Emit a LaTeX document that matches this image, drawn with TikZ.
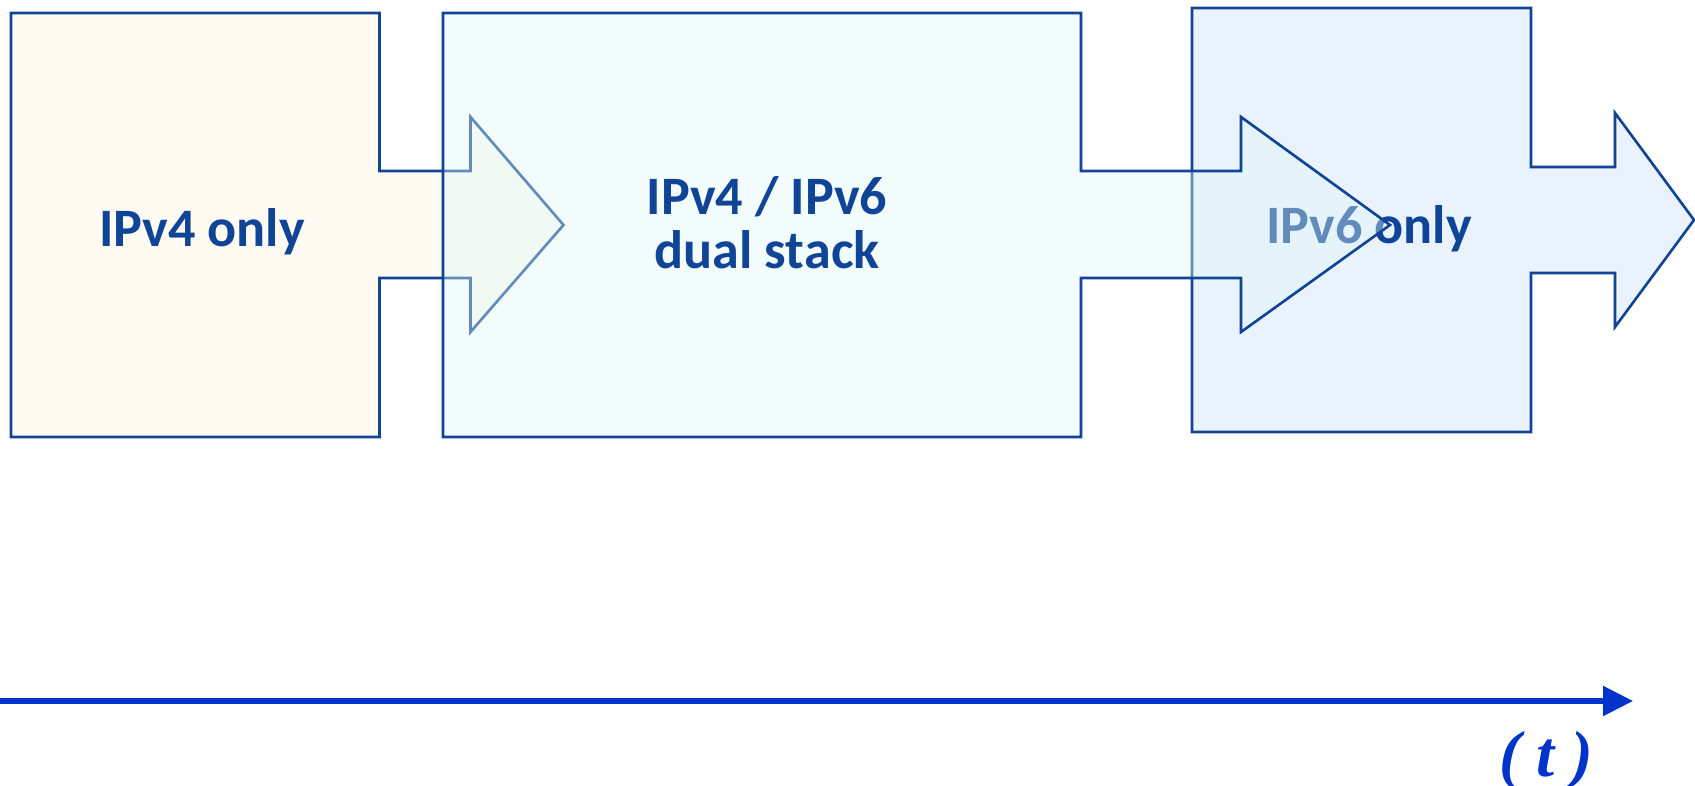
\documentclass[tikz,border=0pt]{standalone}
\usepackage{fontspec}
\setmainfont{Carlito}
\newfontfamily\serifbi{Liberation Serif}
\usetikzlibrary{arrows.meta}
\definecolor{edge}{RGB}{16,68,150}
\definecolor{cream}{RGB}{255,251,242}
\definecolor{aqua}{RGB}{222,247,247}
\definecolor{sky}{RGB}{233,242,253}
\definecolor{axisblue}{RGB}{0,51,204}
\begin{document}
\begin{tikzpicture}[x=0.01cm,y=-0.01cm,
  stage/.style={draw=edge,line width=0.75pt,line join=miter},
  stagelabel/.style={text=edge,font=\bfseries\fontsize{15.4}{15.4}\selectfont,
    align=center,inner sep=0pt,anchor=base}]
\useasboundingbox (0,0) rectangle (1695,786);

% stage 1: IPv4 only
\draw[stage,fill=cream]
  (11,13) -- (379.5,13) -- (379.5,171) -- (470.5,171) -- (470.5,117)
  -- (563.5,225) -- (470.5,332) -- (470.5,278) -- (379.5,278)
  -- (379.5,437) -- (11,437) -- cycle;
\node[stagelabel] (v4) at (202,246.5) {IPv4 only};

% stage 3: IPv6 only
\draw[stage,fill=sky]
  (1192,8) -- (1531,8) -- (1531,167) -- (1615,167) -- (1615,113)
  -- (1694,220) -- (1615,327) -- (1615,273) -- (1531,273)
  -- (1531,432) -- (1192,432) -- cycle;
\node[stagelabel] (v6) at (1369,244) {IPv6 only};

% stage 2: dual stack, laid over its neighbours
\draw[stage,fill=aqua,fill opacity=0.4]
  (443,13) -- (1081,13) -- (1081,171) -- (1241,171) -- (1241,117)
  -- (1390,225) -- (1241,332) -- (1241,278) -- (1081,278)
  -- (1081,437) -- (443,437) -- cycle;
\node[stagelabel] (dual) at (767,269) {IPv4 / IPv6\\dual stack};

% time axis
\coordinate (t0) at (0,701);
\coordinate (t1) at (1633,701);
\draw[axisblue,line width=1.5pt,-{Triangle[length=0.30cm,width=0.29cm]}] (t0) -- (t1);
\node[text=axisblue,anchor=base,inner sep=0pt,
  font=\serifbi\bfseries\itshape\fontsize{18.5}{20}\selectfont] (time) at (1546,776) {( t )};
\end{tikzpicture}
\end{document}
